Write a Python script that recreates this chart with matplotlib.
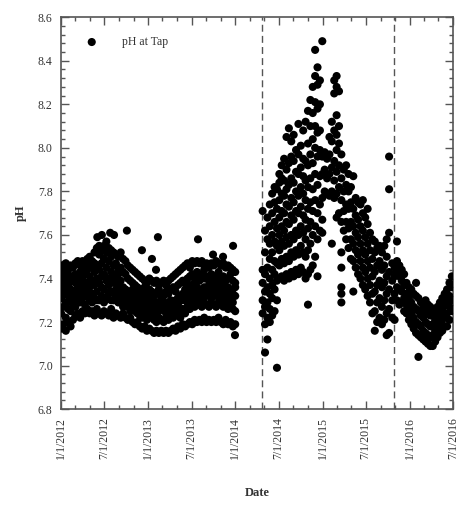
import numpy as np
import pandas as pd
import matplotlib
matplotlib.use("Agg")
import matplotlib.pyplot as plt
from matplotlib.ticker import MultipleLocator, AutoMinorLocator
import matplotlib.dates as mdates

plt.rcParams["font.family"] = ["Liberation Serif", "DejaVu Serif"]

C_AXIS = "#555555"

# pH readings grouped in 10-day bins (each inner list = readings in that bin)
# Jan 2012 - Dec 2013, bins start 2012-01-01
ph_before = [
    [7.17, 7.24, 7.31, 7.36, 7.41, 7.46], [7.19, 7.27, 7.33, 7.38, 7.43, 7.45],
    [7.16, 7.22, 7.29, 7.35, 7.40, 7.47], [7.20, 7.26, 7.32, 7.37, 7.44, 7.42],
    [7.18, 7.25, 7.30, 7.39, 7.35, 7.46], [7.21, 7.28, 7.34, 7.40, 7.45, 7.31],
    [7.23, 7.27, 7.33, 7.38, 7.47, 7.42], [7.24, 7.30, 7.36, 7.41, 7.48, 7.33],
    [7.22, 7.29, 7.35, 7.43, 7.46, 7.38], [7.25, 7.31, 7.34, 7.40, 7.48, 7.44],
    [7.24, 7.28, 7.37, 7.42, 7.47, 7.33], [7.26, 7.32, 7.38, 7.44, 7.49, 7.35],
    [7.24, 7.30, 7.36, 7.41, 7.46, 7.50], [7.25, 7.33, 7.39, 7.45, 7.48, 7.29],
    [7.23, 7.31, 7.37, 7.43, 7.52, 7.47], [7.26, 7.34, 7.40, 7.46, 7.54, 7.30],
    [7.24, 7.30, 7.38, 7.44, 7.51, 7.55], [7.23, 7.32, 7.41, 7.47, 7.53, 7.36],
    [7.25, 7.35, 7.42, 7.49, 7.55, 7.29], [7.24, 7.31, 7.39, 7.45, 7.52, 7.57],
    [7.23, 7.33, 7.40, 7.48, 7.54, 7.37], [7.26, 7.34, 7.43, 7.50, 7.53, 7.30],
    [7.22, 7.30, 7.38, 7.46, 7.52, 7.41], [7.24, 7.32, 7.40, 7.47, 7.51, 7.35],
    [7.23, 7.29, 7.37, 7.44, 7.50, 7.42], [7.22, 7.31, 7.39, 7.45, 7.52, 7.34],
    [7.24, 7.30, 7.36, 7.43, 7.49, 7.27], [7.22, 7.28, 7.35, 7.42, 7.48, 7.32],
    [7.21, 7.27, 7.34, 7.40, 7.46, 7.30], [7.22, 7.29, 7.33, 7.39, 7.45, 7.25],
    [7.20, 7.26, 7.32, 7.38, 7.44, 7.35], [7.19, 7.25, 7.31, 7.37, 7.43, 7.28],
    [7.20, 7.24, 7.30, 7.36, 7.42, 7.33], [7.18, 7.23, 7.29, 7.35, 7.41, 7.26],
    [7.17, 7.22, 7.28, 7.34, 7.40, 7.31], [7.18, 7.24, 7.30, 7.36, 7.39, 7.27],
    [7.16, 7.21, 7.27, 7.33, 7.38, 7.30], [7.17, 7.23, 7.29, 7.35, 7.40, 7.25],
    [7.16, 7.22, 7.28, 7.34, 7.39, 7.31], [7.15, 7.21, 7.27, 7.32, 7.38, 7.24],
    [7.16, 7.20, 7.26, 7.33, 7.39, 7.29], [7.15, 7.22, 7.28, 7.35, 7.37, 7.25],
    [7.16, 7.21, 7.27, 7.31, 7.38, 7.33], [7.15, 7.20, 7.26, 7.32, 7.39, 7.29],
    [7.16, 7.22, 7.28, 7.34, 7.37, 7.24], [7.15, 7.21, 7.29, 7.33, 7.39, 7.26],
    [7.16, 7.23, 7.27, 7.35, 7.40, 7.30], [7.17, 7.22, 7.29, 7.36, 7.41, 7.25],
    [7.16, 7.24, 7.30, 7.34, 7.42, 7.27], [7.18, 7.23, 7.31, 7.37, 7.43, 7.28],
    [7.17, 7.25, 7.32, 7.38, 7.44, 7.22], [7.19, 7.26, 7.33, 7.39, 7.45, 7.30],
    [7.18, 7.24, 7.31, 7.38, 7.46, 7.35], [7.19, 7.27, 7.34, 7.40, 7.47, 7.29],
    [7.20, 7.26, 7.33, 7.41, 7.45, 7.37], [7.19, 7.28, 7.35, 7.42, 7.48, 7.31],
    [7.21, 7.27, 7.34, 7.40, 7.47, 7.38], [7.20, 7.29, 7.36, 7.43, 7.48, 7.32],
    [7.21, 7.28, 7.35, 7.41, 7.47, 7.39], [7.20, 7.27, 7.34, 7.42, 7.48, 7.31],
    [7.22, 7.29, 7.36, 7.40, 7.46, 7.44], [7.20, 7.28, 7.35, 7.41, 7.47, 7.32],
    [7.21, 7.27, 7.33, 7.39, 7.45, 7.37], [7.20, 7.29, 7.36, 7.42, 7.47, 7.31],
    [7.21, 7.28, 7.34, 7.40, 7.46, 7.38], [7.20, 7.27, 7.35, 7.41, 7.48, 7.32],
    [7.22, 7.29, 7.36, 7.43, 7.47, 7.39], [7.20, 7.28, 7.34, 7.40, 7.46, 7.31],
    [7.19, 7.27, 7.35, 7.41, 7.47, 7.37], [7.21, 7.29, 7.33, 7.39, 7.45, 7.30],
    [7.19, 7.26, 7.34, 7.40, 7.46, 7.36], [7.20, 7.28, 7.35, 7.42, 7.45, 7.31],
    [7.18, 7.26, 7.33, 7.39, 7.44, 7.29], [7.19, 7.25, 7.32, 7.38, 7.43, 7.36],
]

# Apr 2014 - Oct 2015 (Flint River source), bins start 2014-04-25
ph_river = [
    [7.71, 7.44, 7.38, 7.30, 7.24],
    [7.06, 7.19, 7.27, 7.34, 7.42, 7.52, 7.62],
    [7.12, 7.22, 7.29, 7.36, 7.45, 7.58, 7.68],
    [7.20, 7.26, 7.33, 7.40, 7.49, 7.56, 7.64, 7.74],
    [7.23, 7.31, 7.37, 7.44, 7.52, 7.60, 7.70, 7.79],
    [7.25, 7.35, 7.42, 7.48, 7.57, 7.66, 7.75, 7.82],
    [6.99, 7.30, 7.39, 7.47, 7.55, 7.63, 7.72, 7.81],
    [7.40, 7.46, 7.53, 7.60, 7.68, 7.76, 7.84, 7.88],
    [7.41, 7.49, 7.57, 7.64, 7.71, 7.79, 7.86, 7.92],
    [7.39, 7.47, 7.55, 7.62, 7.70, 7.78, 7.85, 7.95],
    [7.42, 7.50, 7.59, 7.66, 7.74, 7.81, 7.90, 8.05],
    [7.40, 7.48, 7.56, 7.65, 7.73, 7.83, 7.93, 8.09],
    [7.43, 7.52, 7.60, 7.69, 7.77, 7.86, 7.96, 8.03],
    [7.41, 7.50, 7.58, 7.67, 7.75, 7.84, 7.94, 8.06],
    [7.44, 7.53, 7.62, 7.71, 7.80, 7.89, 7.99],
    [7.42, 7.51, 7.60, 7.70, 7.78, 7.88, 7.97, 8.11],
    [7.45, 7.55, 7.64, 7.73, 7.82, 7.91, 8.01],
    [7.43, 7.52, 7.61, 7.69, 7.79, 7.87, 7.95, 8.08],
    [7.40, 7.50, 7.58, 7.67, 7.76, 7.85, 7.94, 8.12],
    [7.28, 7.42, 7.53, 7.63, 7.72, 7.82, 7.92, 8.02, 8.17],
    [7.44, 7.56, 7.66, 7.75, 7.86, 7.97, 8.10, 8.22],
    [7.46, 7.60, 7.71, 7.81, 7.93, 8.04, 8.16, 8.28],
    [7.50, 7.64, 7.76, 7.88, 8.00, 8.10, 8.21, 8.33, 8.45],
    [7.41, 7.58, 7.70, 7.83, 7.96, 8.07, 8.18, 8.29, 8.37],
    [7.62, 7.74, 7.87, 7.99, 8.08, 8.20, 8.31],
    [7.61, 7.67, 7.77, 7.88, 7.96, 8.49],
    [7.80, 7.90, 7.98],
    [7.79, 7.86, 7.95],
    [7.78, 7.88, 7.97, 8.05],
    [7.56, 7.80, 7.91, 8.03, 8.12],
    [7.77, 7.85, 7.94, 8.08, 8.25, 8.31],
    [7.68, 7.79, 7.89, 7.99, 8.06, 8.15, 8.28, 8.33],
    [7.70, 7.82, 7.92, 8.02, 8.10, 8.26],
    [7.29, 7.33, 7.36, 7.45, 7.52, 7.66, 7.76, 7.86, 7.97],
    [7.62, 7.71, 7.80, 7.90],
    [7.58, 7.66, 7.74, 7.83, 7.92],
    [7.54, 7.63, 7.72, 7.80, 7.88],
    [7.49, 7.58, 7.66, 7.75, 7.82],
    [7.34, 7.48, 7.56, 7.64, 7.72, 7.87],
    [7.45, 7.53, 7.61, 7.69, 7.77],
    [7.42, 7.51, 7.59, 7.67, 7.75],
    [7.40, 7.48, 7.56, 7.64, 7.74],
    [7.37, 7.45, 7.53, 7.62, 7.70, 7.76],
    [7.35, 7.43, 7.51, 7.59, 7.68],
    [7.32, 7.40, 7.48, 7.56, 7.65, 7.72],
    [7.29, 7.37, 7.45, 7.53, 7.61],
    [7.24, 7.33, 7.41, 7.49, 7.58],
    [7.16, 7.25, 7.34, 7.43, 7.52, 7.57],
    [7.20, 7.29, 7.37, 7.46, 7.54],
    [7.22, 7.31, 7.39, 7.48, 7.55],
    [7.19, 7.27, 7.36, 7.44, 7.52],
    [7.21, 7.30, 7.38, 7.46, 7.55],
    [7.14, 7.24, 7.33, 7.41, 7.50, 7.58],
    [7.15, 7.26, 7.35, 7.43, 7.61, 7.81, 7.96],
]

# Oct 2015 - Jun 2016 (back to Detroit water), bins start 2015-10-20
ph_after = [
    [7.22, 7.30, 7.39, 7.47], [7.21, 7.33, 7.41, 7.45],
    [7.30, 7.36, 7.43, 7.48, 7.57], [7.28, 7.35, 7.41, 7.46],
    [7.29, 7.34, 7.39, 7.44], [7.25, 7.31, 7.37, 7.42],
    [7.24, 7.28, 7.33, 7.38], [7.21, 7.26, 7.31, 7.36],
    [7.19, 7.24, 7.29, 7.35], [7.17, 7.22, 7.27, 7.33],
    [7.15, 7.20, 7.26, 7.32, 7.38], [7.04, 7.14, 7.19, 7.25, 7.31],
    [7.13, 7.18, 7.23, 7.29], [7.12, 7.16, 7.22, 7.27],
    [7.11, 7.15, 7.20, 7.25, 7.30], [7.10, 7.14, 7.19, 7.24, 7.28],
    [7.09, 7.13, 7.18, 7.23, 7.27], [7.09, 7.14, 7.19, 7.24],
    [7.11, 7.16, 7.21, 7.26], [7.13, 7.18, 7.22, 7.27],
    [7.15, 7.19, 7.24, 7.29], [7.16, 7.21, 7.26, 7.31],
    [7.18, 7.23, 7.28, 7.33], [7.18, 7.24, 7.30, 7.35],
    [7.21, 7.27, 7.32, 7.38], [7.25, 7.30, 7.36, 7.41],
]

# isolated readings
extra_dates = ["2012-06-01", "2012-06-20", "2012-07-25", "2012-08-10",
               "2012-10-03", "2012-12-05", "2013-01-16", "2013-02-02",
               "2013-02-10", "2013-07-28", "2013-09-29", "2013-11-10",
               "2013-12-22", "2013-12-30"]
extra_ph = [7.59, 7.60, 7.61, 7.60, 7.62, 7.53, 7.49, 7.44,
            7.59, 7.58, 7.51, 7.50, 7.55, 7.14]

# source switches
switch_dates = ["2014-04-21", "2015-10-26"]

tick_dates = ["2012-01-01", "2012-07-01", "2013-01-01", "2013-07-01",
              "2014-01-01", "2014-07-01", "2015-01-01", "2015-07-01",
              "2016-01-01", "2016-07-01"]
tick_labels = ["1/1/2012", "7/1/2012", "1/1/2013", "7/1/2013", "1/1/2014",
               "7/1/2014", "1/1/2015", "7/1/2015", "1/1/2016", "7/1/2016"]


def expand(start, bins):
    d = pd.date_range(start, periods=len(bins), freq="10D")
    x = np.repeat(d.values, [len(b) for b in bins])
    y = np.concatenate([np.array(b) for b in bins])
    return x, y


parts = [expand("2012-01-01", ph_before),
         expand("2014-04-25", ph_river),
         expand("2015-10-20", ph_after)]
xs = np.concatenate([p[0] for p in parts] + [pd.to_datetime(extra_dates).values])
ys = np.concatenate([p[1] for p in parts] + [np.array(extra_ph)])

fig = plt.figure(figsize=(4.59, 5.07), dpi=100)
ax = fig.add_axes([0.133, 0.193, 0.854, 0.773])

ax.scatter(xs, ys, s=34, c="black", edgecolors="none", zorder=3,
           label="pH at Tap")

for d in switch_dates:
    ax.axvline(pd.Timestamp(d), color="#555555", ls=(0, (5, 3)), lw=1.0,
               zorder=2)

ax.set_xlim(pd.Timestamp("2012-01-01"), pd.Timestamp("2016-07-01"))
ax.set_ylim(6.8, 8.6)
ax.set_xticks(pd.to_datetime(tick_dates))
ax.set_xticklabels(tick_labels, rotation=90, fontsize=8.5, color="#333333")
ax.xaxis.set_minor_locator(mdates.MonthLocator(bymonth=[3, 5, 9, 11]))
ax.yaxis.set_major_locator(MultipleLocator(0.2))
ax.yaxis.set_minor_locator(AutoMinorLocator(5))
ax.yaxis.set_major_formatter(plt.FormatStrFormatter("%.1f"))
for lab in ax.get_yticklabels():
    lab.set_fontsize(8.5)
    lab.set_color("#333333")

ax.tick_params(which="both", direction="in", top=True, right=True,
               color=C_AXIS, width=1.0)
ax.tick_params(which="major", length=6, pad=6)
ax.tick_params(which="minor", length=3)
for sp in ax.spines.values():
    sp.set_color(C_AXIS)
    sp.set_linewidth(1.2)

ax.set_xlabel("Date", fontsize=9, fontweight="bold", color="#333333",
              labelpad=20)
ax.set_ylabel("pH", fontsize=9, fontweight="bold", color="#333333",
              labelpad=8)

ax.legend(loc="upper left", frameon=False, fontsize=8.5, markerscale=1.0,
          handletextpad=1.6, borderaxespad=1.2, labelcolor="#333333")

fig.savefig("out.png", dpi=100)
